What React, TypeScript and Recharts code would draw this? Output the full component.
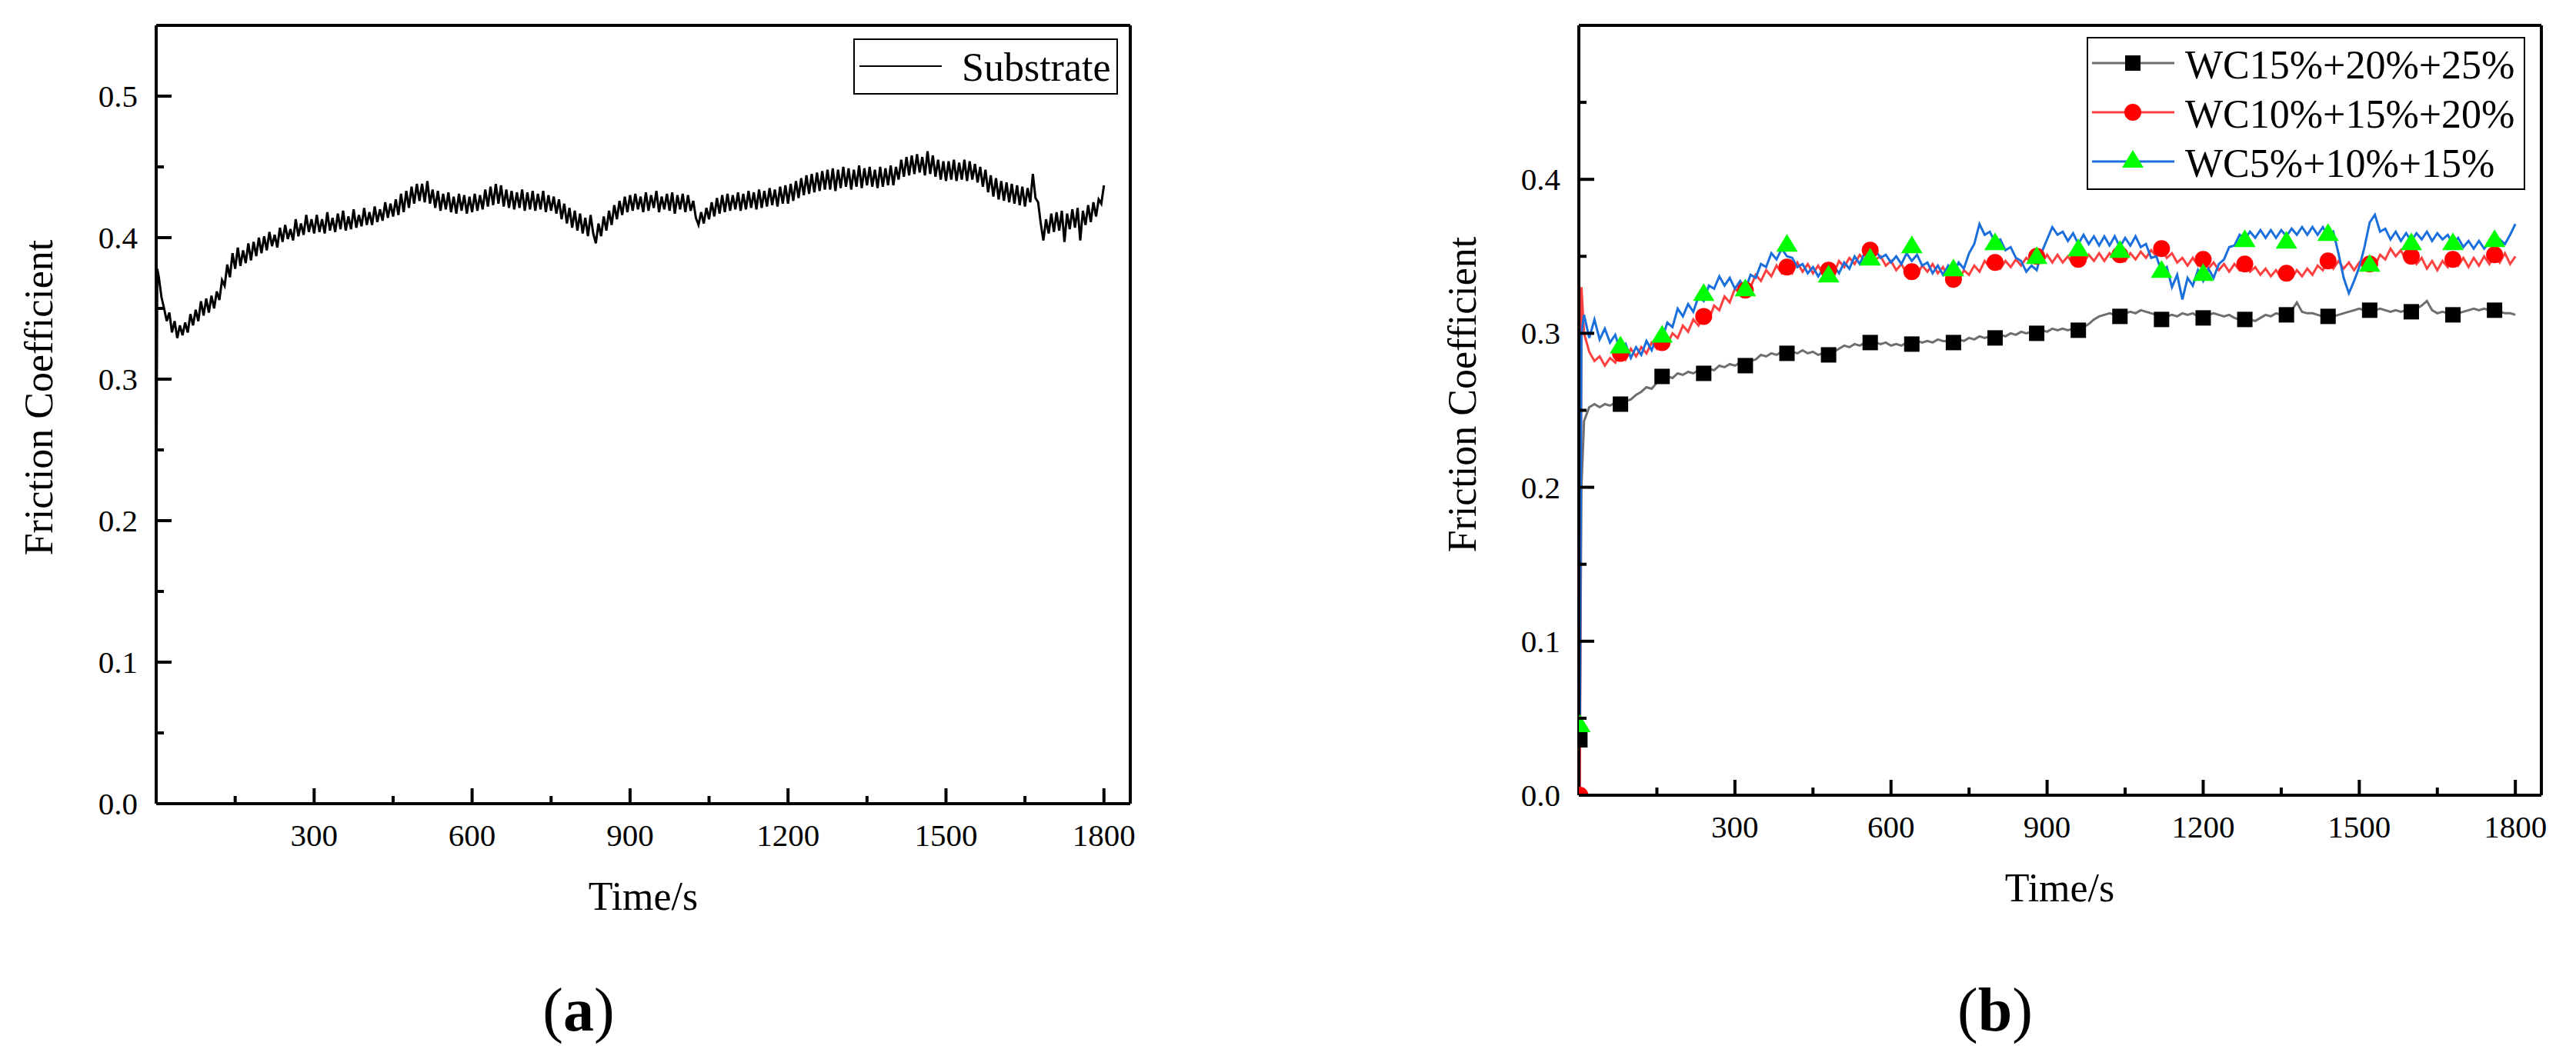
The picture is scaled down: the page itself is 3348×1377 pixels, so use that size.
import React from 'react';
import { ComposedChart, Line, Scatter, XAxis, YAxis, ReferenceLine, Legend } from 'recharts';

const FONT = "'Liberation Serif', 'Times New Roman', Times, serif";
const TXT = { fontFamily: FONT };

// sampling instants (s)
const fiveSecond = Array.from({ length: 360 }, (_, i) => (i + 1) * 5);
const tenSecond = Array.from({ length: 180 }, (_, i) => (i + 1) * 10);
const timesA = [0, 2, ...fiveSecond];
const timesB = [2, 5, ...tenSecond];

// (a) uncoated substrate, one row = 100 s
const substrate = [
  0.18, 0.378,
  0.372, 0.358, 0.350, 0.341, 0.347, 0.333, 0.341, 0.329, 0.338, 0.331, 0.340, 0.333, 0.346, 0.338, 0.349, 0.341, 0.355, 0.345, 0.357, 0.347,
  0.359, 0.350, 0.362, 0.356, 0.370, 0.366, 0.381, 0.372, 0.389, 0.378, 0.393, 0.380, 0.391, 0.382, 0.396, 0.384, 0.397, 0.387, 0.400, 0.389,
  0.401, 0.391, 0.404, 0.394, 0.402, 0.393, 0.407, 0.397, 0.409, 0.399, 0.406, 0.398, 0.413, 0.401, 0.410, 0.402, 0.416, 0.404, 0.413, 0.403,
  0.416, 0.404, 0.413, 0.403, 0.418, 0.405, 0.414, 0.404, 0.417, 0.406, 0.419, 0.405, 0.415, 0.406, 0.420, 0.407, 0.416, 0.408, 0.421, 0.409,
  0.418, 0.409, 0.422, 0.411, 0.420, 0.412, 0.425, 0.414, 0.424, 0.415, 0.427, 0.416, 0.431, 0.418, 0.433, 0.421, 0.436, 0.424, 0.438, 0.426,
  0.438, 0.425, 0.440, 0.424, 0.434, 0.421, 0.433, 0.419, 0.431, 0.420, 0.432, 0.418, 0.429, 0.417, 0.431, 0.419, 0.430, 0.417, 0.429, 0.418,
  0.431, 0.419, 0.430, 0.420, 0.434, 0.422, 0.436, 0.423, 0.438, 0.424, 0.437, 0.422, 0.434, 0.421, 0.433, 0.420, 0.432, 0.421, 0.434, 0.419,
  0.432, 0.420, 0.433, 0.419, 0.431, 0.420, 0.433, 0.418, 0.430, 0.419, 0.429, 0.417, 0.427, 0.413, 0.424, 0.410, 0.421, 0.407, 0.419, 0.405,
  0.417, 0.403, 0.414, 0.401, 0.416, 0.403, 0.396, 0.410, 0.401, 0.415, 0.405, 0.419, 0.409, 0.423, 0.413, 0.426, 0.416, 0.429, 0.418, 0.430,
  0.419, 0.431, 0.420, 0.429, 0.418, 0.432, 0.419, 0.430, 0.421, 0.433, 0.418, 0.429, 0.420, 0.431, 0.419, 0.432, 0.417, 0.430, 0.420, 0.431,
  0.418, 0.430, 0.419, 0.426, 0.414, 0.409, 0.418, 0.410, 0.421, 0.413, 0.425, 0.415, 0.428, 0.417, 0.430, 0.418, 0.431, 0.419, 0.430, 0.420,
  0.432, 0.419, 0.431, 0.420, 0.433, 0.421, 0.432, 0.420, 0.434, 0.421, 0.433, 0.422, 0.435, 0.423, 0.434, 0.422, 0.436, 0.424, 0.437, 0.424,
  0.438, 0.426, 0.440, 0.428, 0.442, 0.430, 0.444, 0.431, 0.445, 0.432, 0.446, 0.433, 0.447, 0.434, 0.448, 0.434, 0.449, 0.433, 0.448, 0.435,
  0.450, 0.436, 0.449, 0.434, 0.448, 0.436, 0.451, 0.435, 0.449, 0.437, 0.450, 0.436, 0.448, 0.435, 0.450, 0.436, 0.449, 0.437, 0.451, 0.437,
  0.450, 0.441, 0.455, 0.443, 0.457, 0.444, 0.458, 0.445, 0.459, 0.446, 0.457, 0.444, 0.461, 0.445, 0.458, 0.443, 0.455, 0.441, 0.454, 0.440,
  0.454, 0.441, 0.455, 0.440, 0.453, 0.441, 0.455, 0.440, 0.454, 0.441, 0.452, 0.439, 0.450, 0.436, 0.448, 0.432, 0.444, 0.429, 0.442, 0.427,
  0.440, 0.426, 0.439, 0.425, 0.438, 0.424, 0.437, 0.423, 0.436, 0.422, 0.435, 0.425, 0.445, 0.428, 0.425, 0.410, 0.398, 0.413, 0.403, 0.417,
  0.404, 0.418, 0.405, 0.419, 0.397, 0.417, 0.406, 0.420, 0.407, 0.421, 0.398, 0.419, 0.409, 0.423, 0.411, 0.425, 0.415, 0.427, 0.424, 0.437,
];

// (b) graded WC coatings, one row = 100 s
const wc152025 = [
  0.036, 0.2,
  0.243, 0.252, 0.254, 0.252, 0.254, 0.253, 0.255, 0.254, 0.256, 0.257,
  0.260, 0.262, 0.265, 0.264, 0.268, 0.269, 0.272, 0.271, 0.274, 0.273,
  0.275, 0.274, 0.276, 0.275, 0.277, 0.276, 0.279, 0.278, 0.280, 0.279,
  0.281, 0.279, 0.282, 0.283, 0.286, 0.285, 0.287, 0.286, 0.288, 0.287,
  0.288, 0.287, 0.289, 0.287, 0.288, 0.286, 0.287, 0.286, 0.288, 0.290,
  0.292, 0.291, 0.293, 0.292, 0.294, 0.295, 0.294, 0.293, 0.294, 0.292,
  0.293, 0.292, 0.294, 0.293, 0.295, 0.294, 0.295, 0.294, 0.296, 0.295,
  0.295, 0.294, 0.296, 0.295, 0.297, 0.296, 0.298, 0.297, 0.298, 0.297,
  0.299, 0.298, 0.300, 0.299, 0.301, 0.300, 0.301, 0.300, 0.302, 0.301,
  0.303, 0.302, 0.303, 0.302, 0.303, 0.302, 0.304, 0.306, 0.309, 0.311,
  0.312, 0.313, 0.312, 0.311, 0.313, 0.314, 0.313, 0.315, 0.314, 0.313,
  0.312, 0.309, 0.311, 0.312, 0.311, 0.313, 0.312, 0.313, 0.311, 0.310,
  0.312, 0.313, 0.312, 0.311, 0.312, 0.310, 0.309, 0.308, 0.309, 0.308,
  0.310, 0.312, 0.311, 0.313, 0.312, 0.313, 0.315, 0.320, 0.314, 0.313,
  0.313, 0.312, 0.311, 0.312, 0.311, 0.312, 0.313, 0.314, 0.315, 0.316,
  0.315, 0.316, 0.315, 0.316, 0.315, 0.314, 0.315, 0.314, 0.315, 0.314,
  0.316, 0.318, 0.321, 0.315, 0.313, 0.314, 0.313, 0.312, 0.313, 0.314,
  0.315, 0.316, 0.315, 0.316, 0.315, 0.314, 0.314, 0.313, 0.313, 0.312,
];

const wc101520 = [
  0.0, 0.33,
  0.300, 0.288, 0.282, 0.285, 0.279, 0.284, 0.281, 0.289, 0.283, 0.290,
  0.285, 0.291, 0.287, 0.294, 0.290, 0.297, 0.293, 0.300, 0.297, 0.305,
  0.301, 0.309, 0.305, 0.312, 0.309, 0.318, 0.315, 0.324, 0.320, 0.329,
  0.326, 0.333, 0.330, 0.338, 0.334, 0.341, 0.337, 0.344, 0.339, 0.343,
  0.339, 0.346, 0.340, 0.345, 0.339, 0.344, 0.338, 0.341, 0.339, 0.347,
  0.343, 0.349, 0.345, 0.351, 0.347, 0.353, 0.348, 0.350, 0.344, 0.347,
  0.341, 0.345, 0.339, 0.343, 0.338, 0.344, 0.340, 0.345, 0.339, 0.343,
  0.336, 0.338, 0.334, 0.341, 0.338, 0.344, 0.340, 0.347, 0.343, 0.346,
  0.342, 0.347, 0.343, 0.348, 0.344, 0.349, 0.346, 0.350, 0.346, 0.351,
  0.346, 0.351, 0.346, 0.350, 0.345, 0.350, 0.346, 0.351, 0.347, 0.352,
  0.347, 0.352, 0.348, 0.352, 0.347, 0.352, 0.348, 0.353, 0.349, 0.354,
  0.350, 0.355, 0.349, 0.352, 0.346, 0.349, 0.344, 0.349, 0.344, 0.347,
  0.342, 0.346, 0.341, 0.345, 0.340, 0.345, 0.341, 0.345, 0.340, 0.343,
  0.338, 0.342, 0.337, 0.341, 0.336, 0.340, 0.336, 0.341, 0.337, 0.342,
  0.338, 0.344, 0.341, 0.347, 0.342, 0.347, 0.342, 0.346, 0.341, 0.346,
  0.342, 0.347, 0.344, 0.351, 0.348, 0.355, 0.350, 0.354, 0.347, 0.351,
  0.345, 0.349, 0.342, 0.347, 0.341, 0.347, 0.343, 0.349, 0.344, 0.349,
  0.343, 0.349, 0.344, 0.350, 0.345, 0.351, 0.346, 0.352, 0.345, 0.350,
];

const wc51015 = [
  0.045, 0.30,
  0.312, 0.297, 0.309, 0.296, 0.303, 0.294, 0.299, 0.288, 0.293, 0.284,
  0.291, 0.286, 0.295, 0.289, 0.298, 0.296, 0.307, 0.304, 0.316, 0.311,
  0.319, 0.314, 0.324, 0.321, 0.331, 0.329, 0.337, 0.331, 0.336, 0.329,
  0.334, 0.328, 0.338, 0.336, 0.345, 0.343, 0.352, 0.348, 0.355, 0.350,
  0.349, 0.343, 0.345, 0.339, 0.343, 0.337, 0.342, 0.336, 0.344, 0.339,
  0.346, 0.342, 0.350, 0.345, 0.353, 0.348, 0.354, 0.349, 0.351, 0.346,
  0.350, 0.345, 0.352, 0.347, 0.351, 0.344, 0.346, 0.339, 0.344, 0.338,
  0.344, 0.339, 0.346, 0.342, 0.352, 0.358, 0.371, 0.364, 0.366, 0.359,
  0.361, 0.354, 0.356, 0.349, 0.347, 0.340, 0.344, 0.341, 0.353, 0.361,
  0.369, 0.364, 0.366, 0.360, 0.365, 0.358, 0.364, 0.358, 0.363, 0.357,
  0.363, 0.357, 0.363, 0.356, 0.362, 0.357, 0.363, 0.356, 0.358, 0.349,
  0.350, 0.340, 0.343, 0.330, 0.338, 0.322, 0.336, 0.331, 0.341, 0.334,
  0.342, 0.336, 0.345, 0.348, 0.356, 0.357, 0.364, 0.361, 0.366, 0.362,
  0.367, 0.362, 0.367, 0.362, 0.367, 0.363, 0.368, 0.364, 0.369, 0.364,
  0.369, 0.364, 0.369, 0.363, 0.366, 0.352, 0.336, 0.326, 0.334, 0.343,
  0.356, 0.372, 0.377, 0.366, 0.368, 0.361, 0.366, 0.360, 0.365, 0.360,
  0.365, 0.361, 0.366, 0.360, 0.365, 0.361, 0.364, 0.358, 0.362, 0.356,
  0.360, 0.355, 0.360, 0.355, 0.359, 0.356, 0.361, 0.358, 0.364, 0.371,
];

// symbols are plotted every 80 s
const markerTimes = [2, 80, 160, 240, 320, 400, 480, 560, 640, 720, 800, 880, 960, 1040, 1120, 1200, 1280, 1360, 1440, 1520, 1600, 1680, 1760];
const squareVals = [0.036, 0.254, 0.272, 0.274, 0.279, 0.287, 0.286, 0.294, 0.293, 0.294, 0.297, 0.300, 0.302, 0.311, 0.309, 0.310, 0.309, 0.312, 0.311, 0.315, 0.314, 0.312, 0.315];
const circleVals = [0.0, 0.287, 0.294, 0.311, 0.328, 0.343, 0.341, 0.354, 0.340, 0.335, 0.346, 0.350, 0.348, 0.351, 0.355, 0.348, 0.345, 0.339, 0.347, 0.345, 0.350, 0.348, 0.351];
const triangleVals = [0.045, 0.291, 0.298, 0.325, 0.328, 0.357, 0.337, 0.348, 0.356, 0.341, 0.358, 0.349, 0.354, 0.353, 0.340, 0.338, 0.360, 0.359, 0.364, 0.344, 0.358, 0.358, 0.360];

const xTicks = [150, 300, 450, 600, 750, 900, 1050, 1200, 1350, 1500, 1650, 1800];
const yTicksA = [0, 0.05, 0.1, 0.15, 0.2, 0.25, 0.3, 0.35, 0.4, 0.45, 0.5];
const yTicksB = [0, 0.05, 0.1, 0.15, 0.2, 0.25, 0.3, 0.35, 0.4, 0.45];

const toPoints = (times: number[], values: number[]) => values.map((v, i) => ({ t: times[i], v }));

const GRAY = '#6e6e6e';
const RED_LINE = '#ff4040';
const BLUE = '#1a6fdc';

const XTick = (props: any) => {
  const { x, y, payload } = props;
  const major = payload.value % 300 === 0;
  return (
    <g>
      <line x1={x} y1={y} x2={x} y2={y - (major ? 20 : 10)} stroke="#000" strokeWidth={4} />
      {major && (
        <text x={x} y={y + 55} textAnchor="middle" style={TXT} fontSize={41} fill="#000">
          {payload.value}
        </text>
      )}
    </g>
  );
};

const YTick = (props: any) => {
  const { x, y, payload } = props;
  const major = Math.round(payload.value * 100) % 10 === 0;
  return (
    <g>
      <line x1={x} y1={y} x2={x + (major ? 20 : 10)} y2={y} stroke="#000" strokeWidth={4} />
      {major && (
        <text x={x - 24} y={y + 14} textAnchor="end" style={TXT} fontSize={41} fill="#000">
          {payload.value.toFixed(1)}
        </text>
      )}
    </g>
  );
};

const Square = (props: any) => <rect x={props.cx - 10} y={props.cy - 10} width={20} height={20} fill="#000" />;
const Dot = (props: any) => <circle cx={props.cx} cy={props.cy} r={11} fill="#ff0000" />;
const Tri = (props: any) => (
  <polygon
    points={`${props.cx},${props.cy - 15} ${props.cx - 14},${props.cy + 8} ${props.cx + 14},${props.cy + 8}`}
    fill="#00ff00"
  />
);

const bottomTitle = (x: number, caption: string, titleY: number) => () => (
  <g style={TXT} fill="#000">
    <text x={x} y={titleY} textAnchor="middle" fontSize={52} style={TXT}>Time/s</text>
    <text x={x - 84} y={1340} textAnchor="middle" fontSize={80} style={TXT}>
      (<tspan fontWeight="bold">{caption}</tspan>)
    </text>
  </g>
);

const sideTitle = (x: number, y: number) => () => (
  <text
    x={x}
    y={y}
    transform={`rotate(-90 ${x} ${y})`}
    textAnchor="middle"
    style={TXT}
    fontSize={52}
    fill="#000"
  >
    Friction Coefficient
  </text>
);

const legendA = () => (
  <svg width={344} height={73} style={{ display: 'block' }}>
    <rect x={1} y={1} width={342} height={71} fill="#fff" stroke="#000" strokeWidth={2} />
    <line x1={8} y1={36} x2={115} y2={36} stroke="#000" strokeWidth={2} />
    <text x={141} y={55} style={TXT} fontSize={52} fill="#000">Substrate</text>
  </svg>
);

const legendRows = [
  { label: 'WC15%+20%+25%', color: GRAY, Mark: Square },
  { label: 'WC10%+15%+20%', color: RED_LINE, Mark: Dot },
  { label: 'WC5%+10%+15%', color: BLUE, Mark: Tri },
];

const legendB = () => (
  <svg width={570} height={199} style={{ display: 'block' }}>
    <rect x={1} y={1} width={568} height={197} fill="#fff" stroke="#000" strokeWidth={2} />
    {legendRows.map((row, i) => {
      const cy = 34 + i * 64;
      const Mark = row.Mark;
      return (
        <g key={row.label}>
          <line x1={7} y1={cy} x2={114} y2={cy} stroke={row.color} strokeWidth={3} />
          <Mark cx={60} cy={cy} />
          <text x={128} y={cy + 20} style={TXT} fontSize={52} fill="#000">{row.label}</text>
        </g>
      );
    })}
  </svg>
);

const SubstrateChart = () => (
  <ComposedChart width={1600} height={1377} margin={{ top: 33, right: 131, bottom: 232, left: 103 }}>
    <XAxis
      type="number"
      dataKey="t"
      domain={[0, 1850]}
      ticks={xTicks}
      interval={0}
      allowDataOverflow
      height={100}
      tickSize={0}
      tickMargin={0}
      tickLine={false}
      tick={<XTick />}
      axisLine={{ stroke: '#000', strokeWidth: 4 }}
      label={bottomTitle(836, 'a', 1183)}
    />
    <YAxis
      type="number"
      domain={[0, 0.55]}
      ticks={yTicksA}
      interval={0}
      allowDataOverflow
      width={100}
      tickSize={0}
      tickMargin={0}
      tickLine={false}
      tick={<YTick />}
      axisLine={{ stroke: '#000', strokeWidth: 4 }}
      label={sideTitle(68, 517)}
    />
    <ReferenceLine y={0.55} stroke="#000" strokeWidth={4} />
    <ReferenceLine x={1850} stroke="#000" strokeWidth={4} />
    <Legend
      layout="horizontal"
      verticalAlign="middle"
      align="center"
      content={legendA}
      wrapperStyle={{ position: 'absolute', left: 1109, top: 50, width: 344, height: 73 }}
    />
    <Line
      data={toPoints(timesA, substrate)}
      dataKey="v"
      type="linear"
      stroke="#000"
      strokeWidth={3}
      dot={false}
      isAnimationActive={false}
    />
  </ComposedChart>
);

const CoatingChart = () => (
  <ComposedChart width={1648} height={1377} margin={{ top: 33, right: 45, bottom: 243, left: 252 }}>
    <XAxis
      type="number"
      dataKey="t"
      domain={[0, 1850]}
      ticks={xTicks}
      interval={0}
      allowDataOverflow
      height={100}
      tickSize={0}
      tickMargin={0}
      tickLine={false}
      tick={<XTick />}
      axisLine={{ stroke: '#000', strokeWidth: 4 }}
      label={bottomTitle(977, 'b', 1172)}
    />
    <YAxis
      type="number"
      domain={[0, 0.5]}
      ticks={yTicksB}
      interval={0}
      allowDataOverflow
      width={100}
      tickSize={0}
      tickMargin={0}
      tickLine={false}
      tick={<YTick />}
      axisLine={{ stroke: '#000', strokeWidth: 4 }}
      label={sideTitle(218, 513)}
    />
    <ReferenceLine y={0.5} stroke="#000" strokeWidth={4} />
    <ReferenceLine x={1850} stroke="#000" strokeWidth={4} />
    <Legend
      layout="horizontal"
      verticalAlign="middle"
      align="center"
      content={legendB}
      wrapperStyle={{ position: 'absolute', left: 1012, top: 48, width: 570, height: 199 }}
    />
    <Line data={toPoints(timesB, wc152025)} dataKey="v" type="linear" stroke={GRAY} strokeWidth={3} dot={false} isAnimationActive={false} />
    <Line data={toPoints(timesB, wc101520)} dataKey="v" type="linear" stroke={RED_LINE} strokeWidth={3} dot={false} isAnimationActive={false} />
    <Line data={toPoints(timesB, wc51015)} dataKey="v" type="linear" stroke={BLUE} strokeWidth={3} dot={false} isAnimationActive={false} />
    <Scatter data={toPoints(markerTimes, squareVals)} dataKey="v" shape={Square} isAnimationActive={false} />
    <Scatter data={toPoints(markerTimes, circleVals)} dataKey="v" shape={Dot} isAnimationActive={false} />
    <Scatter data={toPoints(markerTimes, triangleVals)} dataKey="v" shape={Tri} isAnimationActive={false} />
  </ComposedChart>
);

export default function App() {
  return (
    <div style={{ position: 'absolute', left: 0, top: 0, width: 3348, height: 1377, background: '#fff', overflow: 'hidden' }}>
      <div style={{ position: 'absolute', left: 0, top: 0 }}>
        <SubstrateChart />
      </div>
      <div style={{ position: 'absolute', left: 1700, top: 0 }}>
        <CoatingChart />
      </div>
    </div>
  );
}
